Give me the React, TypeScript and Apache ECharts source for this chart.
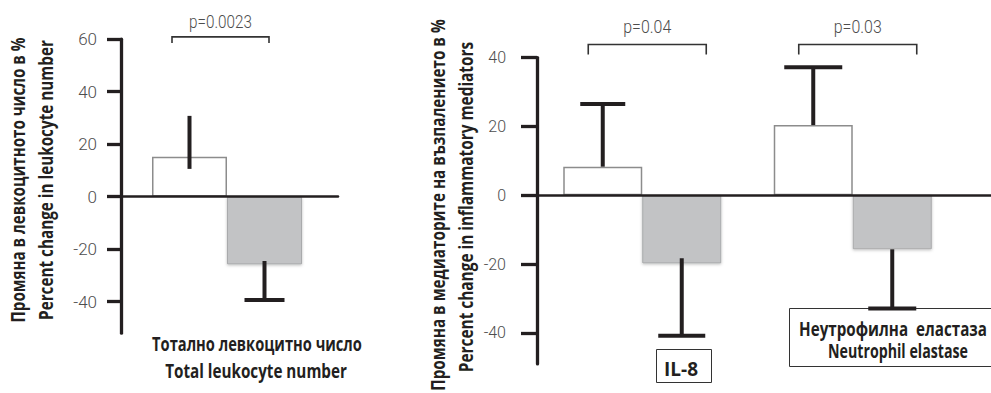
import React, { useEffect, useRef } from "react";
import * as echarts from "echarts";

// ---------- data ----------
const leftCategories = ["Total leukocyte number"];
const leftWhite = [15.2];
const leftGray = [-25.8];
const leftWhiteErrLow = [10.6];
const leftWhiteErrHigh = [30.8];
const leftGrayErrLow = [-24.5];
const leftGrayErrHigh = [-39.4];
const leftPValues = ["p=0.0023"];
const leftBracketLevel = [60.9];
const leftTicks = [-40, -20, 0, 20, 40, 60];

const rightCategories = ["IL-8", "Neutrophil elastase"];
const rightWhite = [8.3, 20.4];
const rightGray = [-19.8, -15.7];
const rightWhiteErrLow = [8.3, 20.4];
const rightWhiteErrHigh = [26.5, 37.2];
const rightGrayErrLow = [-18.3, -15.7];
const rightGrayErrHigh = [-40.8, -32.9];
const rightPValues = ["p=0.04", "p=0.03"];
const rightBracketLevel = [43.8, 43.8];
const rightTicks = [-40, -20, 0, 20, 40];

// ---------- styles ----------
const BOLD_FONT = "'Open Sans', 'Noto Sans', sans-serif";
const LIGHT_FONT = "Roboto, 'Open Sans', sans-serif";
const INK = "#231f20";
const LIGHT_TXT = "#4d4d4d";
const GRAY_FILL = "#c2c3c5";

const LEFT_BAR_W = 75;
const RIGHT_BAR_W = 79;
const leftWhiteCap = [0];
const leftGrayCap = [40];
const rightWhiteCap = [45, 58];
const rightGrayCap = [47, 48];
const leftPWidths = [63];
const rightPWidths = [48, 48];

let measureCtx: CanvasRenderingContext2D | null = null;
function measure(text: string, font: string) {
  if (!measureCtx) measureCtx = document.createElement("canvas").getContext("2d");
  measureCtx!.font = font;
  return measureCtx!.measureText(text).width || 1;
}

function errRender(sign: number, barW: number, caps: number[]) {
  return (params: any, api: any) => {
    const idx = api.value(0);
    const lo = api.coord([idx, api.value(1)]);
    const hi = api.coord([idx, api.value(2)]);
    const x = lo[0] + (sign * barW) / 2;
    const cap = caps[params.dataIndex] || 0;
    const children: any[] = [
      {
        type: "line",
        shape: { x1: x, y1: lo[1], x2: x, y2: hi[1] },
        style: { stroke: INK, lineWidth: 4 },
      },
    ];
    if (cap > 0) {
      children.push({
        type: "line",
        shape: { x1: x - cap / 2, y1: hi[1], x2: x + cap / 2, y2: hi[1] },
        style: { stroke: INK, lineWidth: 4 },
      });
    }
    return { type: "group", children };
  };
}

function bracketRender(
  texts: string[],
  widths: number[],
  offset: number,
  hw: number,
  drop: number,
  gap: number,
  fontSize: number
) {
  return (params: any, api: any) => {
    const idx = api.value(0);
    const c = api.coord([idx, api.value(1)]);
    const cx = c[0] + offset;
    const y = c[1];
    const font = `300 ${fontSize}px ${LIGHT_FONT}`;
    const txt = texts[params.dataIndex];
    const sx = widths[params.dataIndex] / measure(txt, font);
    return {
      type: "group",
      children: [
        {
          type: "polyline",
          shape: {
            points: [
              [cx - hw, y + drop],
              [cx - hw, y],
              [cx + hw, y],
              [cx + hw, y + drop],
            ],
          },
          style: { stroke: "#333", lineWidth: 1.6, fill: "none" },
        },
        {
          type: "text",
          x: cx,
          y: y - gap,
          scaleX: sx,
          style: {
            text: txt,
            fill: LIGHT_TXT,
            font,
            align: "center",
            verticalAlign: "middle",
            textAlign: "center",
            textVerticalAlign: "middle",
          },
        },
      ],
    };
  };
}

function barStyleWhite() {
  return { color: "#ffffff", borderColor: "#8c8c8c", borderWidth: 1.5 };
}
function barStyleGray() {
  return {
    color: GRAY_FILL,
    borderColor: "#a9aaac",
    borderWidth: 1,
    shadowBlur: 3,
    shadowColor: "rgba(0,0,0,0.25)",
    shadowOffsetY: 1,
  };
}

function textEl(text: string, x: number, y: number, size: number, width: number, rotation = 0) {
  const font = `bold ${size}px ${BOLD_FONT}`;
  const sx = width / measure(text, font);
  return {
    type: "text",
    x,
    y,
    rotation,
    scaleX: sx,
    z: 10,
    style: {
      text,
      fill: INK,
      font,
      textAlign: "center",
      textVerticalAlign: "middle",
      align: "center",
      verticalAlign: "middle",
    },
  };
}

export default function App() {
  const ref = useRef<HTMLDivElement>(null);

  useEffect(() => {
    document.body.style.margin = "0";
    const chart = echarts.init(ref.current!, undefined, { renderer: "svg" });

    const hiddenVal = (min: number, max: number, gridIndex: number) => ({
      type: "value",
      gridIndex,
      min,
      max,
      show: false,
      splitLine: { show: false },
    });

    const tickLabel = (margin: number, size: number) => ({
      margin,
      color: LIGHT_TXT,
      fontSize: size,
      fontWeight: 300,
      fontFamily: LIGHT_FONT,
    });

    const option: any = {
      animation: false,
      backgroundColor: "#ffffff",
      grid: [
        { left: 121, top: 39.25, width: 212, height: 293.9 },
        { left: 121, top: 39.25, width: 217, height: 293.9 },
        { left: 537, top: 57.6, width: 421, height: 306.3 },
        { left: 537, top: 57.6, width: 454, height: 306.3 },
      ],
      xAxis: [
        { type: "category", gridIndex: 0, data: leftCategories, show: false },
        {
          type: "category",
          gridIndex: 1,
          data: [""],
          z: 6,
          axisLine: { show: true, onZero: true, lineStyle: { color: INK, width: 2.5 } },
          axisTick: { show: false },
          axisLabel: { show: false },
        },
        { type: "category", gridIndex: 2, data: rightCategories, show: false },
        {
          type: "category",
          gridIndex: 3,
          data: [""],
          z: 6,
          axisLine: { show: true, onZero: true, lineStyle: { color: INK, width: 2.5 } },
          axisTick: { show: false },
          axisLabel: { show: false },
        },
      ],
      yAxis: [
        {
          type: "value",
          gridIndex: 0,
          min: -52,
          max: 60,
          z: 6,
          splitLine: { show: false },
          axisLine: { show: true, lineStyle: { color: INK, width: 3.3 } },
          axisTick: { show: true, length: 14, customValues: leftTicks, lineStyle: { color: INK, width: 3.3 } },
          axisLabel: { customValues: leftTicks, ...tickLabel(24, 17) },
        },
        hiddenVal(-52, 60, 1),
        {
          type: "value",
          gridIndex: 2,
          min: -49,
          max: 40,
          z: 6,
          splitLine: { show: false },
          axisLine: { show: true, lineStyle: { color: INK, width: 3.3 } },
          axisTick: { show: true, length: 16, customValues: rightTicks, lineStyle: { color: INK, width: 3.3 } },
          axisLabel: { customValues: rightTicks, ...tickLabel(31, 16) },
        },
        hiddenVal(-49, 40, 3),
      ],
      series: [
        {
          type: "bar",
          xAxisIndex: 0,
          yAxisIndex: 0,
          data: leftWhite,
          barWidth: LEFT_BAR_W,
          barGap: "0%",
          itemStyle: barStyleWhite(),
        },
        {
          type: "bar",
          xAxisIndex: 0,
          yAxisIndex: 0,
          data: leftGray,
          barWidth: LEFT_BAR_W,
          barGap: "0%",
          itemStyle: barStyleGray(),
        },
        {
          type: "custom",
          xAxisIndex: 0,
          yAxisIndex: 0,
          z: 8,
          renderItem: errRender(-1, LEFT_BAR_W, leftWhiteCap),
          data: leftWhiteErrLow.map((v, i) => [i, v, leftWhiteErrHigh[i]]),
        },
        {
          type: "custom",
          xAxisIndex: 0,
          yAxisIndex: 0,
          z: 8,
          renderItem: errRender(1, LEFT_BAR_W, leftGrayCap),
          data: leftGrayErrLow.map((v, i) => [i, v, leftGrayErrHigh[i]]),
        },
        {
          type: "custom",
          xAxisIndex: 0,
          yAxisIndex: 0,
          clip: false,
          z: 8,
          renderItem: bracketRender(leftPValues, leftPWidths, -6.5, 48.5, 6, 15, 18),
          data: leftBracketLevel.map((v, i) => [i, v]),
        },
        {
          type: "bar",
          xAxisIndex: 2,
          yAxisIndex: 2,
          data: rightWhite,
          barWidth: RIGHT_BAR_W,
          barGap: "0%",
          itemStyle: barStyleWhite(),
        },
        {
          type: "bar",
          xAxisIndex: 2,
          yAxisIndex: 2,
          data: rightGray,
          barWidth: RIGHT_BAR_W,
          barGap: "0%",
          itemStyle: barStyleGray(),
        },
        {
          type: "custom",
          xAxisIndex: 2,
          yAxisIndex: 2,
          z: 8,
          renderItem: errRender(-1, RIGHT_BAR_W, rightWhiteCap),
          data: rightWhiteErrLow.map((v, i) => [i, v, rightWhiteErrHigh[i]]),
        },
        {
          type: "custom",
          xAxisIndex: 2,
          yAxisIndex: 2,
          z: 8,
          renderItem: errRender(1, RIGHT_BAR_W, rightGrayCap),
          data: rightGrayErrLow.map((v, i) => [i, v, rightGrayErrHigh[i]]),
        },
        {
          type: "custom",
          xAxisIndex: 2,
          yAxisIndex: 2,
          clip: false,
          z: 8,
          renderItem: bracketRender(rightPValues, rightPWidths, 5, 59, 10, 18, 18),
          data: rightBracketLevel.map((v, i) => [i, v]),
        },
      ],
      graphic: [
        // left y-axis title
        textEl("Промяна в левкоцитното число в %", 17, 180, 20, 285, Math.PI / 2),
        textEl("Percent change in leukocyte number", 45, 180, 20, 280, Math.PI / 2),
        // left x label
        textEl("Тотално левкоцитно число", 257, 343.5, 20, 210),
        textEl("Total leukocyte number", 256, 370.5, 20, 182),
        // right y-axis title
        textEl("Промяна в медиаторите на възпалението в %", 437, 205, 20, 372, Math.PI / 2),
        textEl("Percent change in inflammatory mediators", 465, 207, 20, 331, Math.PI / 2),
        // right label boxes
        {
          type: "rect",
          z: 1,
          shape: { x: 656.5, y: 349.5, width: 55, height: 33 },
          style: { fill: "#ffffff", stroke: "#333", lineWidth: 1 },
        },
        textEl("IL-8", 681, 368, 20, 34),
        {
          type: "rect",
          z: 1,
          shape: { x: 789.5, y: 308.5, width: 210, height: 58 },
          style: { fill: "#ffffff", stroke: "#333", lineWidth: 1 },
        },
        textEl("Неутрофилна  еластаза", 893, 328, 20, 188),
        textEl("Neutrophil elastase", 898, 350, 20, 140),
      ],
    };

    chart.setOption(option);
    return () => chart.dispose();
  }, []);

  return (
    <div
      ref={ref}
      style={{ position: "absolute", left: 0, top: 0, width: 991, height: 393, background: "#fff" }}
    />
  );
}
